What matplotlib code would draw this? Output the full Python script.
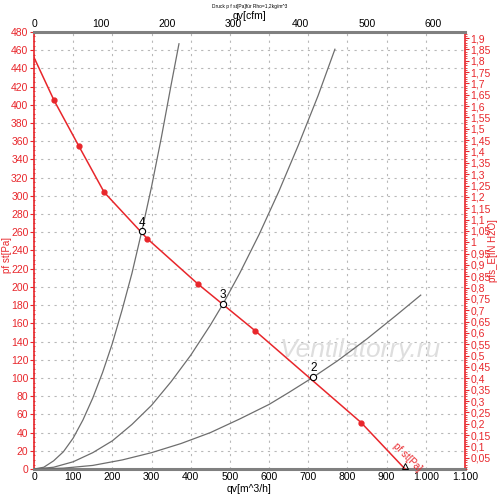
import numpy as np
import matplotlib
matplotlib.use("Agg")
import matplotlib.pyplot as plt
from matplotlib.ticker import MultipleLocator, FixedLocator, FuncFormatter

plt.rcParams.update({"font.family": ["Liberation Sans", "DejaVu Sans"], "font.size": 7.5})

# fan curve pf st [Pa] vs qv [m^3/h]
fan_q = [0, 51, 114, 179, 289, 419, 564, 835, 947]
fan_p = [452, 405, 355, 304, 253, 203, 152, 51, 0]
fan_mark_q = [51, 114, 179, 289, 419, 564, 835]
fan_mark_p = [405, 355, 304, 253, 203, 152, 51]

# system curves
sysA_q = [0, 25, 50, 75, 100, 125, 150, 175, 200, 225, 250, 275, 300, 325, 350, 370]
sysA_p = [0, 2, 9, 19, 34, 54, 78, 106, 138, 175, 215, 261, 310, 364, 422, 467]
sysB_q = [0, 50, 100, 150, 200, 250, 300, 350, 400, 450, 482, 525, 575, 625, 675, 725, 768]
sysB_p = [0, 2, 8, 18, 31, 49, 70, 96, 125, 158, 181, 215, 258, 305, 356, 410, 461]
sysC_q = [0, 75, 150, 225, 300, 375, 450, 525, 600, 650, 713, 775, 850, 925, 987]
sysC_p = [0, 1, 4, 10, 18, 28, 40, 55, 71, 84, 101, 119, 143, 169, 191]

# operating points
op_labels = ["4", "3", "2"]
op_q = [275, 482, 713]
op_p = [261, 181, 101]

RED = "#e8262b"
GRAY = "#808080"
PA_PER_INH2O = 249.089
CFM_PER_M3H = 0.588578

fig = plt.figure(figsize=(5.0, 4.99), dpi=100)
ax = fig.add_axes([0.068, 0.060, 0.862, 0.876])
ax.set_xlim(0, 1100)
ax.set_ylim(0, 480)

ax.grid(True, color="#b8b8b8", linestyle=(0, (2, 4)), lw=0.8)
ax.set_axisbelow(True)

ax.text(832, 131, "Ventilatorry.ru", fontsize=19, style="italic", color="#dedede",
        ha="center", va="center", zorder=1)

for q, p in [(sysA_q, sysA_p), (sysB_q, sysB_p), (sysC_q, sysC_p)]:
    ax.plot(q, p, color="#6e6e6e", lw=0.9, zorder=3)

ax.plot(fan_q, fan_p, color=RED, lw=1.1, zorder=4)
ax.plot(fan_mark_q, fan_mark_p, "o", color=RED, ms=3.5, mec=RED, zorder=5)
ax.plot([fan_q[-1]], [fan_p[-1] + 3], marker="^", color="black", ms=4, mfc="none", mew=0.7, zorder=5)
ax.text(952, 13, "pf st[Pa]", color=RED, rotation=-45, fontsize=7,
        ha="center", va="center", zorder=6)

ax.plot(op_q, op_p, "o", ms=4.5, mfc="white", mec="black", mew=0.8, zorder=6)
for lab, q, p in zip(op_labels, op_q, op_p):
    ax.text(q, p + 3, lab, fontsize=8.5, ha="center", va="bottom", zorder=7)

# bottom axis
ax.xaxis.set_major_locator(MultipleLocator(100))
ax.xaxis.set_major_formatter(FuncFormatter(lambda v, _: f"{int(v):,}".replace(",", ".")))
ax.tick_params(axis="x", length=0, pad=2, labelsize=7.5)
ax.set_xlabel("qv[m^3/h]", fontsize=7.5)
ax.xaxis.set_label_coords(0.5, -0.035)

# left axis
ax.yaxis.set_major_locator(MultipleLocator(20))
ax.yaxis.set_minor_locator(MultipleLocator(5))
ax.tick_params(axis="y", which="major", colors=RED, length=3, labelsize=7.5, pad=1)
ax.tick_params(axis="y", which="minor", colors=RED, length=2, direction="inout")
ax.set_ylabel("pf st[Pa]", color=RED, fontsize=7)
ax.yaxis.set_label_coords(-0.051, 0.49)

for s in ["bottom", "top"]:
    ax.spines[s].set_color(GRAY)
    ax.spines[s].set_linewidth(2.2)
ax.spines["left"].set_color(RED)
ax.spines["left"].set_linewidth(1.2)
ax.spines["right"].set_color(RED)
ax.spines["right"].set_linewidth(1.2)

# right axis
axr = ax.twinx()
axr.set_ylim(0, 480 / PA_PER_INH2O)
axr.yaxis.set_major_locator(FixedLocator(np.round(np.arange(0.05, 1.901, 0.05), 2)))
axr.yaxis.set_minor_locator(MultipleLocator(0.01))
axr.yaxis.set_major_formatter(FuncFormatter(lambda v, _: f"{v:.2f}".rstrip("0").rstrip(".").replace(".", ",")))
axr.tick_params(axis="y", which="major", colors=RED, length=3, labelsize=7.5, pad=1)
axr.tick_params(axis="y", which="minor", colors=RED, length=1.5)
axr.set_ylabel("pfs_E[IN H2O]", color=RED, fontsize=7)
axr.yaxis.set_label_coords(1.053, 0.50)
for s in axr.spines.values():
    s.set_visible(False)

# top axis
axt = ax.twiny()
axt.set_xlim(0, 1100 * CFM_PER_M3H)
axt.xaxis.set_major_locator(MultipleLocator(100))
axt.tick_params(axis="x", length=0, pad=2, labelsize=7.5)
axt.set_xlabel("qv[cfm]", fontsize=7.5)
axt.xaxis.set_label_coords(0.5, 1.03)
for s in axt.spines.values():
    s.set_visible(False)

fig.text(0.5, 0.992, "Druck p f st[Pa]für Rho=1,2kg/m^3", fontsize=3.5, ha="center", va="top")

fig.savefig("out.png", dpi=100)
